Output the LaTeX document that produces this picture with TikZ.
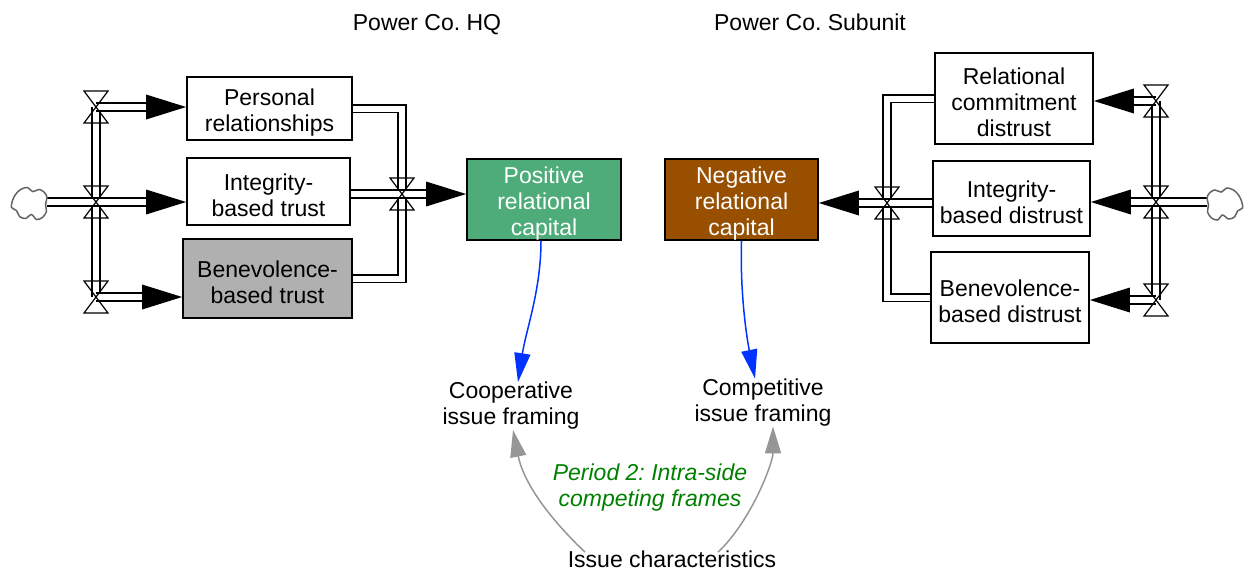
\documentclass[tikz,border=0pt]{standalone}
\usepackage{fontspec}
\setmainfont{Liberation Sans}
\usetikzlibrary{arrows.meta,calc}
\definecolor{posgreen}{RGB}{77,172,121}
\definecolor{negbrown}{RGB}{152,79,0}
\definecolor{boxgray}{RGB}{176,176,176}
\definecolor{linkblue}{RGB}{0,51,255}
\definecolor{linkgray}{RGB}{150,150,150}
\definecolor{notegreen}{RGB}{0,128,0}
\definecolor{cloudgray}{RGB}{100,100,100}
\frenchspacing
\newcommand\lowerstrut{\rule{0pt}{24pt}}
\tikzset{
  valve/.pic={\draw[line width=1.2pt] (-12,-16) -- (12,-16) -- (-12,16) -- (12,16) -- cycle;},
  headright/.pic={\fill[black] (0,0) -- (-40,-12.5) -- (-40,12.5) -- cycle;},
  headleft/.pic={\fill[black] (0,0) -- (40,-12.5) -- (40,12.5) -- cycle;},
  cloudshape/.pic={\draw[cloudgray,line width=1.5pt] plot[smooth cycle,tension=0.5] coordinates {(-16,-3) (-13,-9) (-8,-14) (-1,-16) (4,-12) (11,-14) (16,-11) (18.5,-6) (17,1) (18,8) (14,14) (8,16) (3,11) (-3,15) (-9,13) (-12,7) (-17,4)};}
}
\begin{document}
\begin{tikzpicture}[x=1pt,y=-1pt,
  every node/.style={font=\fontsize{23}{26}\selectfont, align=center, inner sep=0pt},
  stock/.style={draw=black, line width=1.8pt, fill=white},
  pipe/.style={draw=black, line width=1.6pt, double=white, double distance=6pt},
  bluelink/.style={draw=linkblue, line width=1.5pt, -{Triangle[length=29pt,width=16pt]}},
  graylink/.style={draw=linkgray, line width=1.5pt, -{Triangle[length=27pt,width=16pt]}}]
\useasboundingbox (0,0) rectangle (1246,571);

% stocks
\node[stock, minimum width=165pt, minimum height=63pt] (pr) at (269.5,108.5) {\lowerstrut Personal\\relationships};
\node[stock, minimum width=163pt, minimum height=67pt] (it) at (268.5,191.5) {\lowerstrut Integrity-\\based trust};
\node[stock, fill=boxgray, minimum width=169pt, minimum height=79pt] (bt) at (267.5,278.5) {\lowerstrut Benevolence-\\based trust};
\node[stock, fill=posgreen, text=white, minimum width=154pt, minimum height=75pt] (pos) at (544,199.5) {\lowerstrut Positive\\relational\\capital};
\node[stock, fill=negbrown, text=white, minimum width=153pt, minimum height=75pt] (neg) at (741.5,199.5) {\lowerstrut Negative\\relational\\capital};
\node[stock, minimum width=158pt, minimum height=91pt] (rc) at (1014,98.5) {\lowerstrut Relational\\commitment\\distrust};
\node[stock, minimum width=157pt, minimum height=75pt] (id) at (1011.5,198.5) {\lowerstrut Integrity-\\based distrust};
\node[stock, minimum width=158pt, minimum height=91pt] (bd) at (1010,297.5) {\lowerstrut Benevolence-\\based distrust};

% labels
\node[anchor=base] (hq) at (427,30) {Power Co. HQ};
\node[anchor=base] (sub) at (810,30) {Power Co. Subunit};
\node (coop) at (511,406) {Cooperative\\issue framing};
\node (comp) at (763,402.5) {Competitive\\issue framing};
\node[text=notegreen, font=\fontsize{23}{26}\selectfont\itshape] (note) at (650,487.5) {Period 2: Intra-side\\competing frames};
\node[anchor=base] (issue) at (672,567) {Issue characteristics};

% valves, clouds, tips
\coordinate (v1) at (96,107);
\coordinate (v2) at (96,202);
\coordinate (v3) at (96,297);
\coordinate (cL) at (47,202);
\coordinate (v4) at (402,194);
\coordinate (v5) at (1156,101);
\coordinate (v6) at (1156,202);
\coordinate (v7) at (1156,300);
\coordinate (cR) at (1207,202);
\coordinate (v8) at (887,203);
\coordinate (t1) at (v1 -| pr.west);
\coordinate (t2) at (v2 -| it.west);
\coordinate (t3) at (v3 -| bt.west);
\coordinate (t4) at (v4 -| pos.west);
\coordinate (t5) at (v5 -| rc.east);
\coordinate (t6) at (v6 -| id.east);
\coordinate (t7) at (v7 -| bd.east);
\coordinate (t8) at (v8 -| neg.east);

% left inflows
\draw[pipe] (v1) -- (v3);
\draw[pipe] (v1) -- ($(t1)+(-38,0)$);
\draw[pipe] (cL) -- ($(t2)+(-38,0)$);
\draw[pipe] (v3) -- ($(t3)+(-38,0)$);
% HQ collector
\draw[pipe] (pr.east) -| (v4) |- (bt.east);
\draw[pipe] (v4 -| it.east) -- ($(t4)+(-38,0)$);
% right inflows
\draw[pipe] (v5) -- (v7);
\draw[pipe] (v5) -- ($(t5)+(38,0)$);
\draw[pipe] (cR) -- ($(t6)+(38,0)$);
\draw[pipe] (v7) -- ($(t7)+(38,0)$);
% subunit collector
\draw[pipe] (rc.west) -| (v8) |- (bd.west);
\draw[pipe] (v8 -| id.west) -- ($(t8)+(38,0)$);

\foreach \t in {t1,t2,t3,t4} {\pic at (\t) {headright};}
\foreach \t in {t5,t6,t7,t8} {\pic at (\t) {headleft};}
\foreach \v in {v1,v2,v3,v4,v5,v6,v7,v8} {\pic at (\v) {valve};}
\pic at (28.5,203.5) {cloudshape};
\pic[xscale=-1] at (1225.5,204) {cloudshape};

% causal links
\draw[bluelink] ([xshift=-3pt]pos.south) .. controls (541,290) and (526,330) .. ([xshift=7pt]coop.north);
\draw[bluelink] (neg.south) .. controls (740,290) and (746,334) .. ([xshift=-8pt]comp.north);
\draw[graylink] ([xshift=-87pt,yshift=-2pt]issue.north) .. controls (545,514) and (523,480) .. ([xshift=2pt]coop.south);
\draw[graylink] ([xshift=46pt,yshift=-2pt]issue.north) .. controls (752,520) and (773,462) .. ([xshift=10pt]comp.south);
\end{tikzpicture}
\end{document}
